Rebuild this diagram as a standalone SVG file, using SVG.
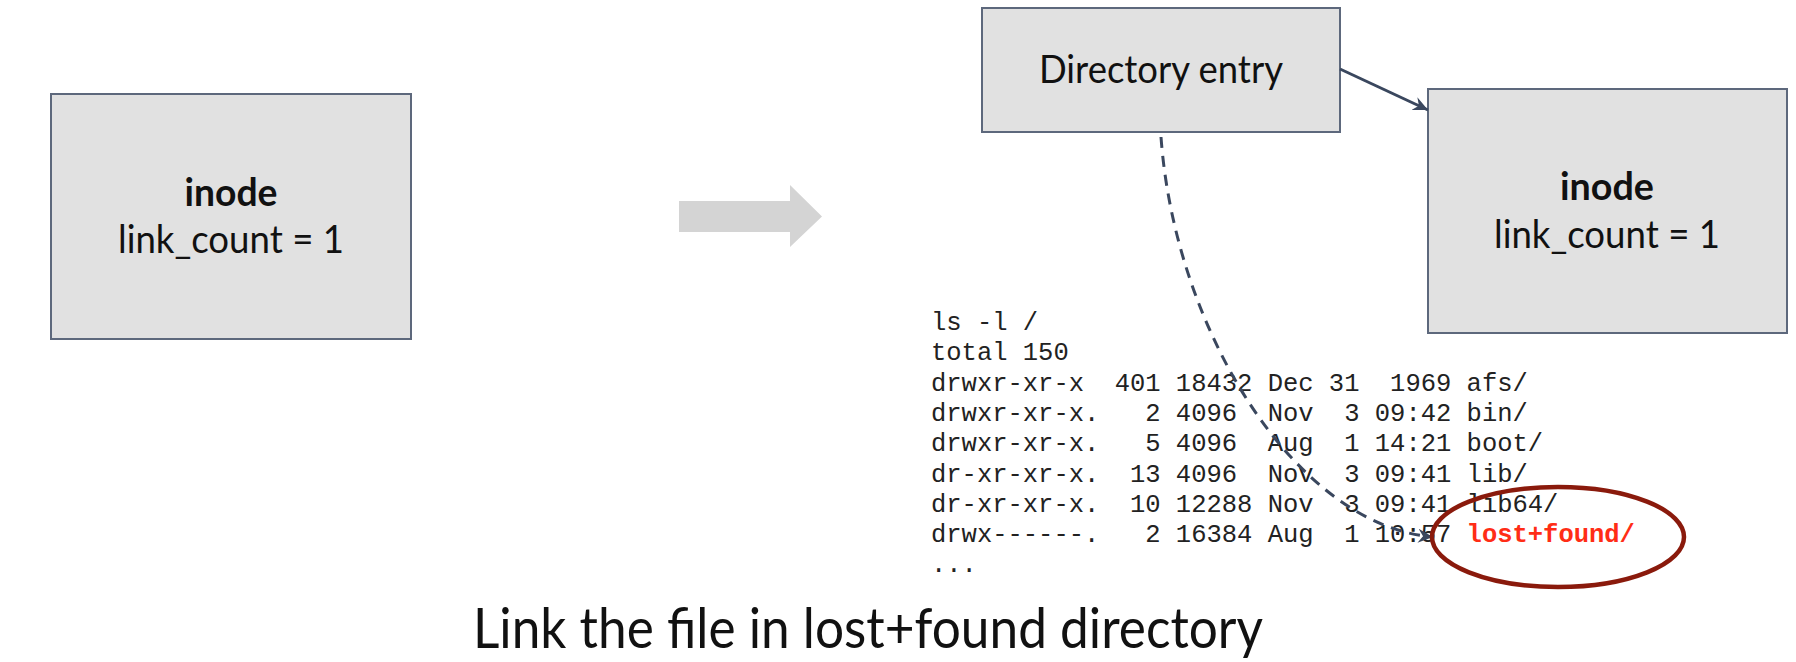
<svg xmlns="http://www.w3.org/2000/svg" width="1796" height="662" viewBox="0 0 1796 662">
<style>
.box{fill:#e1e1e1;stroke:#5d687c;stroke-width:2}
.lbl{font-family:Lato,"Open Sans",sans-serif;fill:#111;text-anchor:middle}
.b{font-weight:bold}
.mono{font-family:"Liberation Mono","Courier New",monospace;font-size:25.5px;fill:#222;white-space:pre}
.con{fill:none;stroke:#3a475e;stroke-width:3}
</style>
<defs>
<marker id="ah" markerUnits="userSpaceOnUse" markerWidth="18" markerHeight="16" refX="15" refY="8" orient="auto" viewBox="0 0 18 16">
<path d="M0,1 L15,8 L0,15 L5,8 Z" fill="#3a475e"/>
</marker>
</defs>
<rect width="1796" height="662" fill="#fff"/>
<g id="inode-left">
<rect class="box" x="51" y="94" width="360" height="245"/>
<text class="lbl b" x="231" y="206" font-size="39" textLength="93" lengthAdjust="spacingAndGlyphs">inode</text>
<text class="lbl" x="231" y="253" font-size="39" textLength="226" lengthAdjust="spacingAndGlyphs">link_count = 1</text>
</g>
<g id="transition-arrow">
<polygon points="679,201 790,201 790,185 822,216.5 790,247 790,232 679,232" fill="#d4d4d4"/>
</g>
<g id="directory-entry">
<rect class="box" x="982" y="8" width="358" height="124"/>
<text class="lbl" x="1161" y="83" font-size="39" textLength="244" lengthAdjust="spacingAndGlyphs">Directory entry</text>
</g>
<g id="inode-right">
<rect class="box" x="1428" y="89" width="359" height="244"/>
<text class="lbl b" x="1607" y="200" font-size="39" textLength="94" lengthAdjust="spacingAndGlyphs">inode</text>
<text class="lbl" x="1607" y="248" font-size="39" textLength="226" lengthAdjust="spacingAndGlyphs">link_count = 1</text>
</g>
<g id="listing" class="mono">
<text xml:space="preserve" x="931" y="330">ls -l /</text>
<text xml:space="preserve" x="931" y="360.3">total 150</text>
<text xml:space="preserve" x="931" y="390.6">drwxr-xr-x  401 18432 Dec 31  1969 afs/</text>
<text xml:space="preserve" x="931" y="420.9">drwxr-xr-x.   2 4096  Nov  3 09:42 bin/</text>
<text xml:space="preserve" x="931" y="451.2">drwxr-xr-x.   5 4096  Aug  1 14:21 boot/</text>
<text xml:space="preserve" x="931" y="481.5">dr-xr-xr-x.  13 4096  Nov  3 09:41 lib/</text>
<text xml:space="preserve" x="931" y="511.8">dr-xr-xr-x.  10 12288 Nov  3 09:41 lib64/</text>
<text xml:space="preserve" x="931" y="542.1">drwx------.   2 16384 Aug  1 10:57 <tspan font-weight="bold" fill="#ff2d16">lost+found/</tspan></text>
<text xml:space="preserve" x="931" y="572.4">...</text>
</g>
<g id="connectors">
<line class="con" x1="1340" y1="69" x2="1428" y2="110" marker-end="url(#ah)"/>
<path class="con" d="M1161,137 C1175,330 1295,525 1433,537" stroke-dasharray="11 8" marker-end="url(#ah)"/>
</g>
<g id="highlight">
<ellipse cx="1558" cy="537" rx="126" ry="50" fill="none" stroke="#8a1a0c" stroke-width="4.5"/>
</g>
<g id="caption">
<text class="lbl" x="868" y="648" font-size="56" textLength="790" lengthAdjust="spacingAndGlyphs">Link the file in lost+found directory</text>
</g>
</svg>
